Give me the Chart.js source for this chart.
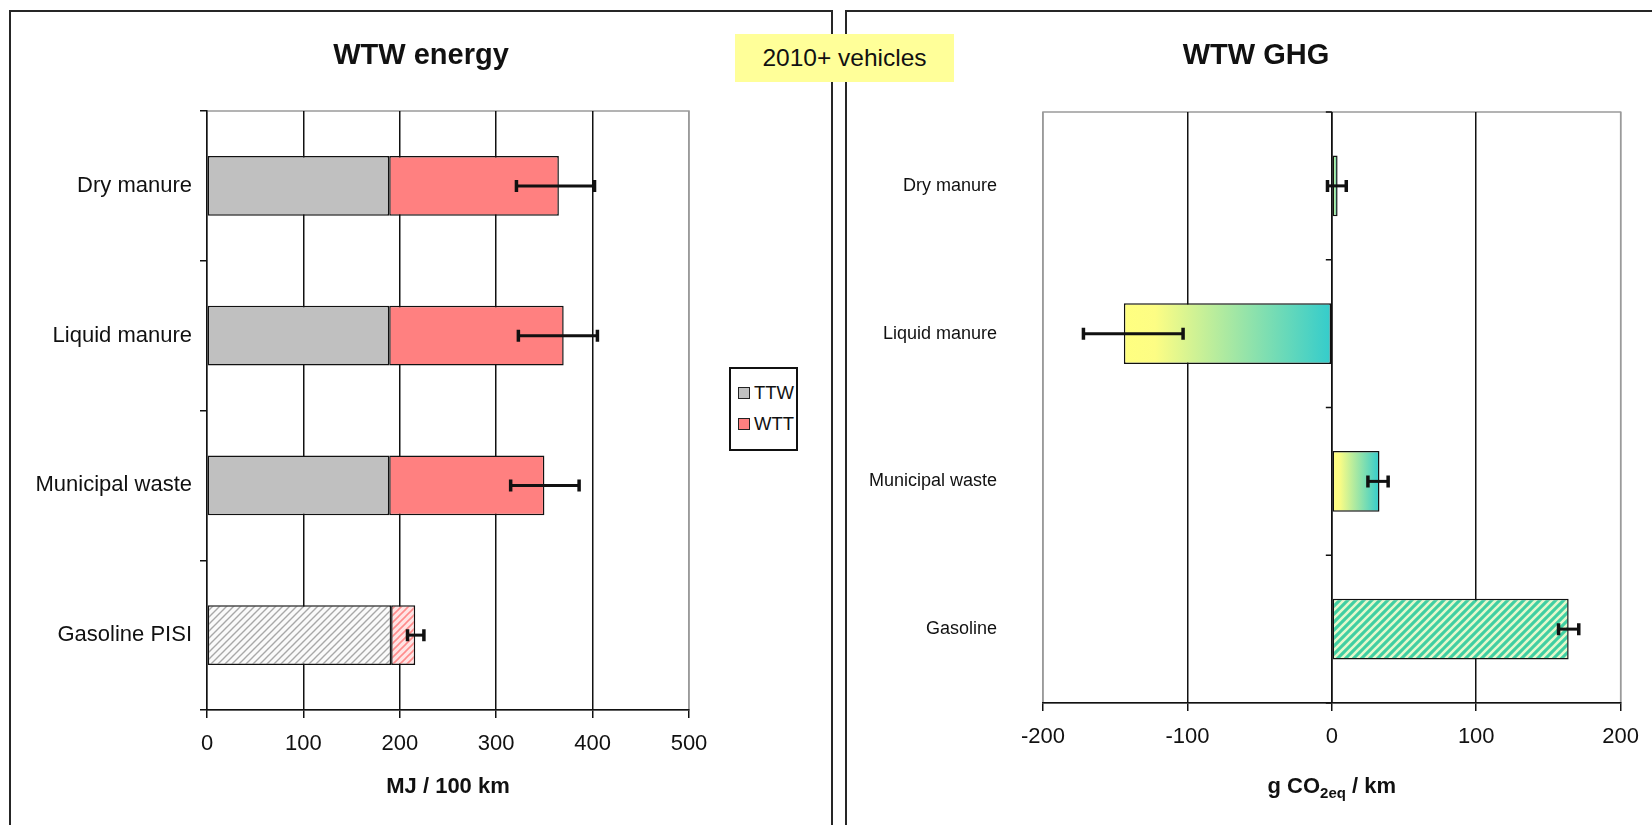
<!DOCTYPE html>
<html>
<head>
<meta charset="utf-8">
<script src="https://cdn.jsdelivr.net/npm/chart.js@4.4.1/dist/chart.umd.min.js"></script>
<style>
  html, body { margin: 0; padding: 0; background: #fff; width: 1652px; height: 825px; overflow: hidden;
    font-family: "Liberation Sans", Arial, sans-serif; color: #111; }
  .panel { position: absolute; top: 10px; height: 815px; border: 2px solid #262626; border-bottom: none; box-sizing: border-box; }
  #panelLeft { left: 9px; width: 824px; }
  #panelRight { left: 845px; width: 820px; }
  canvas { position: absolute; top: 0; }
  #chartLeft { left: 0; }
  #chartRight { left: 840px; }
  .title { position: absolute; top: 37px; font-weight: bold; font-size: 29px; line-height: 35px;
    transform: translateX(-50%); white-space: nowrap; }
  #titleLeft { left: 421px; }
  #titleRight { left: 1256px; }
  #note { position: absolute; left: 735px; top: 34px; width: 219px; height: 48px; background: #ffff99;
    font-size: 24.5px; line-height: 48px; text-align: center; }
  #legend { position: absolute; left: 729px; top: 367px; width: 69px; height: 84px; border: 2px solid #111;
    box-sizing: border-box; background: #fff; padding: 8px 0 0 7px; }
  .item { height: 31px; display: flex; align-items: center; font-size: 18.5px; white-space: nowrap; }
  .swatch { flex: none; width: 10px; height: 10px; border: 1.5px solid #222; margin-right: 4px; }
</style>
</head>
<body>
<div class="panel" id="panelLeft"></div>
<div class="panel" id="panelRight"></div>
<canvas id="chartLeft" width="840" height="825"></canvas>
<canvas id="chartRight" width="812" height="825"></canvas>
<div class="title" id="titleLeft">WTW energy</div>
<div class="title" id="titleRight">WTW GHG</div>
<div id="note">2010+ vehicles</div>
<div id="legend"></div>

<script>
// ---- Well-to-wheels energy (MJ / 100 km) ----
const energyCategories = ['Dry manure', 'Liquid manure', 'Municipal waste', 'Gasoline PISI'];
const seriesNames = ['TTW', 'WTT'];
const ttwEnergy = [189, 189, 189, 191];
const wttEnergy = [176, 181, 161, 25];
const energyErrLow = [321, 323, 315, 208];
const energyErrHigh = [402, 405, 386, 225];
const energyTicks = [0, 100, 200, 300, 400, 500];

// ---- Well-to-wheels GHG (g CO2eq / km) ----
const ghgCategories = ['Dry manure', 'Liquid manure', 'Municipal waste', 'Gasoline'];
const ghgValues = [4, -144, 33, 164];
const ghgErrLow = [-3, -172, 25, 157];
const ghgErrHigh = [10, -103, 39, 171];
const ghgTicks = [-200, -100, 0, 100, 200];

Chart.defaults.font.family = '"Liberation Sans", Arial, sans-serif';
Chart.defaults.color = '#111';

const INK = '#111';
const FRAME = '#9a9a9a';
const TTW_COLOR = '#c0c0c0';
const WTT_COLOR = '#ff8080';

// the conventional gasoline pathway is drawn hatched
const isReference = name => name.startsWith('Gasoline');

function hatch(bg, fg, lw, size) {
  const c = document.createElement('canvas');
  c.width = c.height = size;
  const g = c.getContext('2d');
  g.fillStyle = bg;
  g.fillRect(0, 0, size, size);
  g.strokeStyle = fg;
  g.lineWidth = lw;
  g.beginPath();
  for (const k of [0, size, 2 * size]) {
    g.moveTo(k + 1, -1);
    g.lineTo(k - size - 1, size + 1);
  }
  g.stroke();
  return g.createPattern(c, 'repeat');
}

const greyHatch = hatch('#fafafa', '#a8a8a8', 1.4, 7);
const pinkHatch = hatch('#ffe4e4', '#ff8c8c', 1.6, 7);
const greenHatch = hatch('#40cfa2', '#e4f8cc', 2.6, 8);

// horizontal error bars drawn on the value scale
function errorBars(low, high) {
  return {
    id: 'errorBars',
    afterDatasetsDraw(chart) {
      const { ctx, scales: { x, y } } = chart;
      ctx.save();
      ctx.strokeStyle = INK;
      ctx.lineCap = 'butt';
      low.forEach((lo, i) => {
        const py = y.getPixelForValue(i);
        const x1 = x.getPixelForValue(lo);
        const x2 = x.getPixelForValue(high[i]);
        ctx.lineWidth = 3;
        ctx.beginPath();
        ctx.moveTo(x1, py); ctx.lineTo(x2, py);
        ctx.stroke();
        ctx.lineWidth = 3.5;
        ctx.beginPath();
        ctx.moveTo(x1, py - 6); ctx.lineTo(x1, py + 6);
        ctx.moveTo(x2, py - 6); ctx.lineTo(x2, py + 6);
        ctx.stroke();
      });
      ctx.restore();
    }
  };
}

// light grey frame round the plot area
const plotFrame = {
  id: 'plotFrame',
  beforeDraw(chart) {
    const { ctx, chartArea: a } = chart;
    ctx.save();
    ctx.strokeStyle = FRAME;
    ctx.lineWidth = 1.5;
    ctx.strokeRect(a.left, a.top, a.right - a.left, a.bottom - a.top);
    ctx.restore();
  }
};

const edgeGrid = (lo, hi) => c => (c.tick && (c.tick.value === lo || c.tick.value === hi)) ? FRAME : INK;

// ---------- left chart ----------
new Chart(document.getElementById('chartLeft'), {
  type: 'bar',
  data: {
    labels: energyCategories,
    datasets: [
      { label: seriesNames[0], data: ttwEnergy,
        backgroundColor: energyCategories.map(n => isReference(n) ? greyHatch : TTW_COLOR) },
      { label: seriesNames[1], data: wttEnergy,
        backgroundColor: energyCategories.map(n => isReference(n) ? pinkHatch : WTT_COLOR) }
    ].map(d => Object.assign(d, { borderColor: INK, borderWidth: 1.5, borderSkipped: false,
      barPercentage: 0.4, categoryPercentage: 1 }))
  },
  options: {
    indexAxis: 'y', responsive: false, animation: false, devicePixelRatio: 1,
    layout: { padding: { left: 0, right: 151, top: 111, bottom: 25 } },
    plugins: { legend: { display: false }, tooltip: { enabled: false } },
    scales: {
      x: {
        stacked: true, min: energyTicks[0], max: energyTicks[energyTicks.length - 1],
        afterBuildTicks: s => { s.ticks = energyTicks.map(v => ({ value: v })); },
        grid: { color: edgeGrid(0, 500), lineWidth: 1.5, tickLength: 8, tickColor: INK },
        border: { display: true, color: INK, width: 1.5 },
        ticks: { font: { size: 22 }, color: INK, padding: 13, maxRotation: 0 },
        title: { display: true, text: 'MJ / 100 km', font: { size: 22, weight: 'bold' }, color: INK, padding: 0 },
        afterFit: s => { s.height = 90; }
      },
      y: {
        stacked: true,
        grid: { display: true, drawOnChartArea: false, offset: true, tickLength: 7, color: INK, lineWidth: 1.5 },
        border: { display: true, color: INK, width: 1.5 },
        ticks: { font: { size: 22 }, color: INK, padding: 8 },
        afterFit: s => { s.width = 207; }
      }
    }
  },
  plugins: [plotFrame, errorBars(energyErrLow, energyErrHigh)]
});

// legend for the energy chart
const legend = document.getElementById('legend');
[TTW_COLOR, WTT_COLOR].forEach((col, i) => {
  const it = document.createElement('div');
  it.className = 'item';
  it.innerHTML = '<span class="swatch" style="background:' + col + '"></span>' + seriesNames[i];
  legend.appendChild(it);
});

// ---------- right chart ----------
function ghgFill(c) {
  const chart = c.chart;
  const name = chart.data.labels[c.dataIndex];
  if (isReference(name)) return greenHatch;
  const x = chart.scales.x;
  if (!x || !chart.chartArea) return '#8fdcc0';
  const v = chart.data.datasets[c.datasetIndex].data[c.dataIndex];
  const a = x.getPixelForValue(Math.min(0, v));
  const b = x.getPixelForValue(Math.max(0, v));
  const g = chart.ctx.createLinearGradient(a, 0, b, 0);
  g.addColorStop(0, '#ffff80');
  g.addColorStop(0.15, '#fdfd84');
  g.addColorStop(1, '#33cccc');
  return g;
}

// value axis at zero with category tick marks
const zeroAxis = {
  id: 'zeroAxis',
  beforeDatasetsDraw(chart) {
    const { ctx, chartArea: a, scales: { x } } = chart;
    const px = x.getPixelForValue(0);
    const n = chart.data.labels.length;
    const band = (a.bottom - a.top) / n;
    ctx.save();
    ctx.strokeStyle = INK;
    ctx.lineWidth = 1.5;
    ctx.beginPath();
    ctx.moveTo(px, a.top); ctx.lineTo(px, a.bottom);
    for (let k = 0; k <= n; k++) {
      const py = a.top + k * band;
      ctx.moveTo(px - 6, py); ctx.lineTo(px, py);
    }
    ctx.stroke();
    ctx.restore();
  }
};

// axis title with subscript
const ghgAxisTitle = {
  id: 'ghgAxisTitle',
  afterDraw(chart) {
    const { ctx, chartArea: a, scales: { x } } = chart;
    const parts = [['g CO', 22, 0], ['2eq', 15, 5], [' / km', 22, 0]];
    ctx.save();
    ctx.fillStyle = INK;
    ctx.textBaseline = 'alphabetic';
    let w = 0;
    parts.forEach(p => { ctx.font = 'bold ' + p[1] + 'px "Liberation Sans", Arial, sans-serif'; w += ctx.measureText(p[0]).width; });
    let cx = (a.left + a.right) / 2 - w / 2;
    const base = x.bottom - 5;
    parts.forEach(p => {
      ctx.font = 'bold ' + p[1] + 'px "Liberation Sans", Arial, sans-serif';
      ctx.fillText(p[0], cx, base + p[2]);
      cx += ctx.measureText(p[0]).width;
    });
    ctx.restore();
  }
};

new Chart(document.getElementById('chartRight'), {
  type: 'bar',
  data: {
    labels: ghgCategories,
    datasets: [{ label: 'WTW GHG', data: ghgValues, backgroundColor: ghgFill,
      borderColor: INK, borderWidth: 1.5, borderSkipped: false, barPercentage: 0.41, categoryPercentage: 1 }]
  },
  options: {
    indexAxis: 'y', responsive: false, animation: false, devicePixelRatio: 1,
    layout: { padding: { left: 0, right: 26, top: 112, bottom: 27 } },
    plugins: { legend: { display: false }, tooltip: { enabled: false } },
    scales: {
      x: {
        min: ghgTicks[0], max: ghgTicks[ghgTicks.length - 1],
        afterBuildTicks: s => { s.ticks = ghgTicks.map(v => ({ value: v })); },
        grid: { color: edgeGrid(-200, 200), lineWidth: 1.5, tickLength: 8, tickColor: INK },
        border: { display: true, color: INK, width: 1.5 },
        ticks: { font: { size: 22 }, color: INK, padding: 13, maxRotation: 0 },
        afterFit: s => { s.height = 95; }
      },
      y: {
        grid: { display: false, drawTicks: false },
        border: { display: false },
        ticks: { font: { size: 18 }, color: INK, padding: 46 },
        afterFit: s => { s.width = 203; }
      }
    }
  },
  plugins: [plotFrame, zeroAxis, errorBars(ghgErrLow, ghgErrHigh), ghgAxisTitle]
});
</script>
</body>
</html>
